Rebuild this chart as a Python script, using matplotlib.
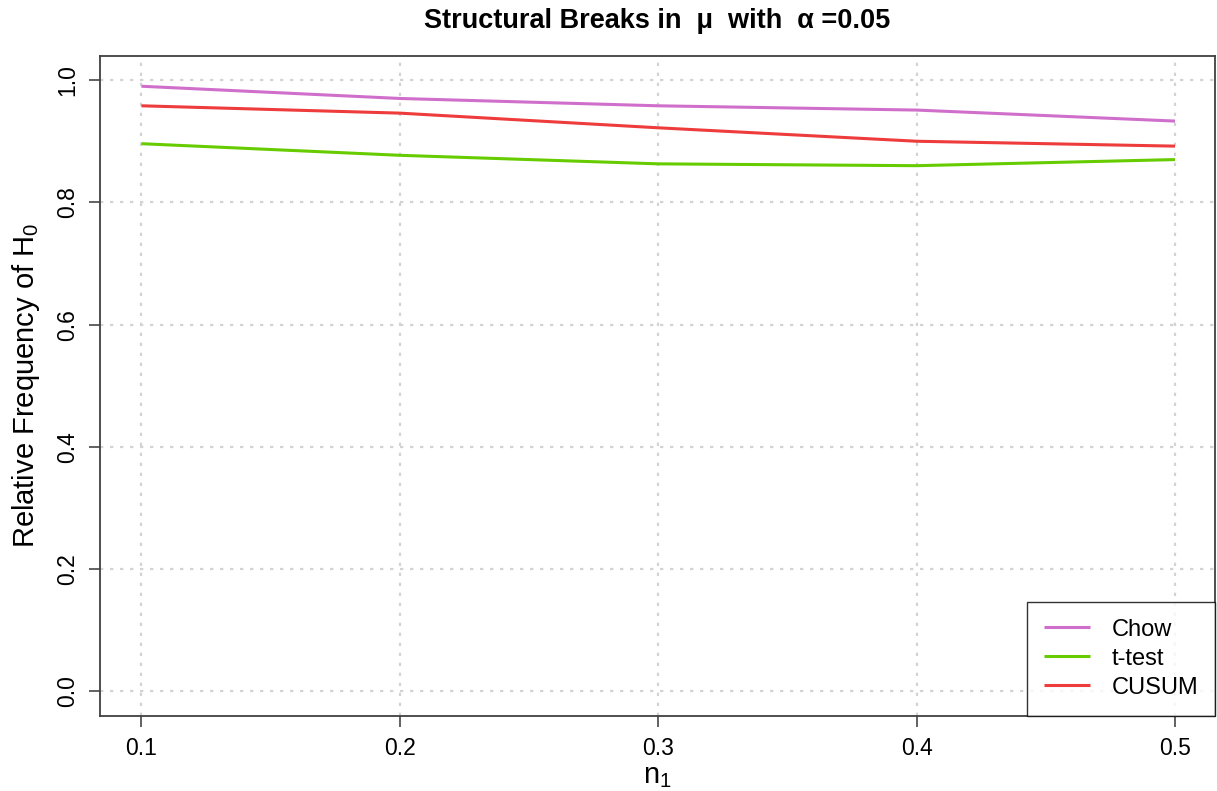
import matplotlib
matplotlib.use("Agg")
import matplotlib.pyplot as plt

# relative share of H0 kept
n1 = [0.1, 0.2, 0.3, 0.4, 0.5]
chow = [0.990, 0.970, 0.958, 0.951, 0.933]
ttest = [0.896, 0.877, 0.863, 0.860, 0.870]
cusum = [0.958, 0.946, 0.922, 0.900, 0.892]

series_names = ["Chow", "t-test", "CUSUM"]
series_colors = ["#d06ecb", "#66cc00", "#ee3b3b"]

x_ticks = [0.1, 0.2, 0.3, 0.4, 0.5]
y_ticks = [0.0, 0.2, 0.4, 0.6, 0.8, 1.0]

plt.rcParams["font.family"] = ["Liberation Sans", "DejaVu Sans"]
plt.rcParams["mathtext.fontset"] = "custom"
plt.rcParams["mathtext.rm"] = "Liberation Sans"
plt.rcParams["mathtext.it"] = "Liberation Sans"

fig = plt.figure(figsize=(12.17, 7.91), dpi=100)
ax = fig.add_axes([0.0822, 0.0952, 0.9162, 0.8344])

# grid first so lines sit on top
for xv in x_ticks:
    ax.axvline(xv, color="#d3d3d3", linestyle=(0, (1.5, 3)), linewidth=1.6, zorder=0)
for yv in y_ticks:
    ax.axhline(yv, color="#d3d3d3", linestyle=(0, (1.5, 3)), linewidth=1.6, zorder=0)

for vals, name, col in zip([chow, ttest, cusum], series_names, series_colors):
    ax.plot(n1, vals, color=col, linewidth=2.2, label=name, solid_capstyle="butt")

ax.set_xlim(0.084, 0.5155)
ax.set_ylim(-0.04, 1.04)
ax.set_xticks(x_ticks)
ax.set_xticklabels([f"{v:.1f}" for v in x_ticks])
ax.set_yticks(y_ticks)
ax.set_yticklabels([f"{v:.1f}" for v in y_ticks], rotation=90, va="center")

for s in ax.spines.values():
    s.set_color("#404040")
    s.set_linewidth(1.3)
ax.tick_params(axis="both", direction="out", length=8, width=1.3, color="#555555",
               labelsize=16.5, pad=7)

ax.set_xlabel("n$_1$", fontsize=21, labelpad=2)
ax.set_ylabel("Relative Frequency of H$_0$", fontsize=21, labelpad=10)
ax.set_title("Structural Breaks in  \u03bc  with  \u03b1 =0.05", fontsize=19.5,
             fontweight="bold", pad=20)

leg = ax.legend(loc="lower right", fontsize=17, frameon=True, fancybox=False,
                borderaxespad=0.0, handlelength=1.95, handletextpad=0.9,
                borderpad=0.72, labelspacing=0.3)
leg.get_frame().set_edgecolor("black")
leg.get_frame().set_linewidth(1.0)

fig.savefig("out.png", dpi=100)
